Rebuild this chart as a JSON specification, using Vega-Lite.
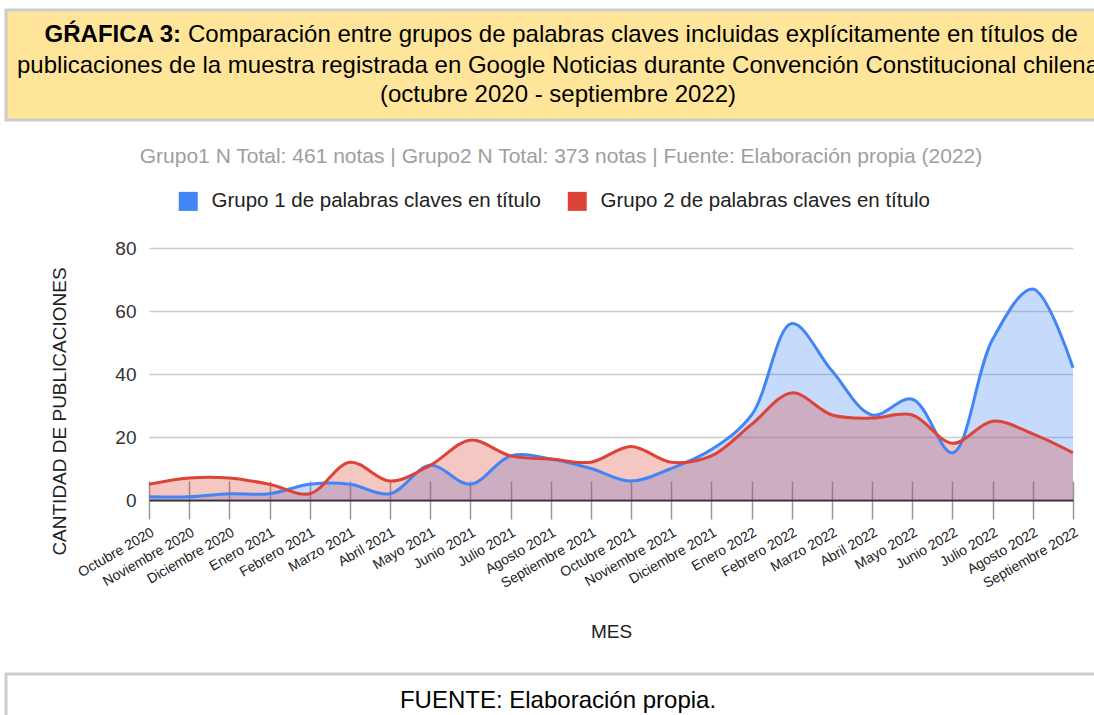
{
  "$schema": "https://vega.github.io/schema/vega-lite/v6.json",
  "background": "#ffffff",
  "padding": {"left": 4, "top": 8, "right": 0, "bottom": 0},
  "config": {
    "font": "Liberation Sans",
    "view": {"stroke": null},
    "concat": {"spacing": 24}
  },
  "datasets": {
    "serie": [
      {"mes": "Octubre 2020", "grupo": "Grupo 1 de palabras claves en título", "valor": 1},
      {"mes": "Noviembre 2020", "grupo": "Grupo 1 de palabras claves en título", "valor": 1},
      {"mes": "Diciembre 2020", "grupo": "Grupo 1 de palabras claves en título", "valor": 2},
      {"mes": "Enero 2021", "grupo": "Grupo 1 de palabras claves en título", "valor": 2},
      {"mes": "Febrero 2021", "grupo": "Grupo 1 de palabras claves en título", "valor": 5},
      {"mes": "Marzo 2021", "grupo": "Grupo 1 de palabras claves en título", "valor": 5},
      {"mes": "Abril 2021", "grupo": "Grupo 1 de palabras claves en título", "valor": 2},
      {"mes": "Mayo 2021", "grupo": "Grupo 1 de palabras claves en título", "valor": 11},
      {"mes": "Junio 2021", "grupo": "Grupo 1 de palabras claves en título", "valor": 5},
      {"mes": "Julio 2021", "grupo": "Grupo 1 de palabras claves en título", "valor": 14},
      {"mes": "Agosto 2021", "grupo": "Grupo 1 de palabras claves en título", "valor": 13},
      {"mes": "Septiembre 2021", "grupo": "Grupo 1 de palabras claves en título", "valor": 10},
      {"mes": "Octubre 2021", "grupo": "Grupo 1 de palabras claves en título", "valor": 6},
      {"mes": "Noviembre 2021", "grupo": "Grupo 1 de palabras claves en título", "valor": 10},
      {"mes": "Diciembre 2021", "grupo": "Grupo 1 de palabras claves en título", "valor": 16},
      {"mes": "Enero 2022", "grupo": "Grupo 1 de palabras claves en título", "valor": 27},
      {"mes": "Febrero 2022", "grupo": "Grupo 1 de palabras claves en título", "valor": 56},
      {"mes": "Marzo 2022", "grupo": "Grupo 1 de palabras claves en título", "valor": 41},
      {"mes": "Abril 2022", "grupo": "Grupo 1 de palabras claves en título", "valor": 27},
      {"mes": "Mayo 2022", "grupo": "Grupo 1 de palabras claves en título", "valor": 32},
      {"mes": "Junio 2022", "grupo": "Grupo 1 de palabras claves en título", "valor": 15},
      {"mes": "Julio 2022", "grupo": "Grupo 1 de palabras claves en título", "valor": 51},
      {"mes": "Agosto 2022", "grupo": "Grupo 1 de palabras claves en título", "valor": 67},
      {"mes": "Septiembre 2022", "grupo": "Grupo 1 de palabras claves en título", "valor": 42},
      {"mes": "Octubre 2020", "grupo": "Grupo 2 de palabras claves en título", "valor": 5},
      {"mes": "Noviembre 2020", "grupo": "Grupo 2 de palabras claves en título", "valor": 7},
      {"mes": "Diciembre 2020", "grupo": "Grupo 2 de palabras claves en título", "valor": 7},
      {"mes": "Enero 2021", "grupo": "Grupo 2 de palabras claves en título", "valor": 5},
      {"mes": "Febrero 2021", "grupo": "Grupo 2 de palabras claves en título", "valor": 2},
      {"mes": "Marzo 2021", "grupo": "Grupo 2 de palabras claves en título", "valor": 12},
      {"mes": "Abril 2021", "grupo": "Grupo 2 de palabras claves en título", "valor": 6},
      {"mes": "Mayo 2021", "grupo": "Grupo 2 de palabras claves en título", "valor": 11},
      {"mes": "Junio 2021", "grupo": "Grupo 2 de palabras claves en título", "valor": 19},
      {"mes": "Julio 2021", "grupo": "Grupo 2 de palabras claves en título", "valor": 14},
      {"mes": "Agosto 2021", "grupo": "Grupo 2 de palabras claves en título", "valor": 13},
      {"mes": "Septiembre 2021", "grupo": "Grupo 2 de palabras claves en título", "valor": 12},
      {"mes": "Octubre 2021", "grupo": "Grupo 2 de palabras claves en título", "valor": 17},
      {"mes": "Noviembre 2021", "grupo": "Grupo 2 de palabras claves en título", "valor": 12},
      {"mes": "Diciembre 2021", "grupo": "Grupo 2 de palabras claves en título", "valor": 14},
      {"mes": "Enero 2022", "grupo": "Grupo 2 de palabras claves en título", "valor": 24},
      {"mes": "Febrero 2022", "grupo": "Grupo 2 de palabras claves en título", "valor": 34},
      {"mes": "Marzo 2022", "grupo": "Grupo 2 de palabras claves en título", "valor": 27},
      {"mes": "Abril 2022", "grupo": "Grupo 2 de palabras claves en título", "valor": 26},
      {"mes": "Mayo 2022", "grupo": "Grupo 2 de palabras claves en título", "valor": 27},
      {"mes": "Junio 2022", "grupo": "Grupo 2 de palabras claves en título", "valor": 18},
      {"mes": "Julio 2022", "grupo": "Grupo 2 de palabras claves en título", "valor": 25},
      {"mes": "Agosto 2022", "grupo": "Grupo 2 de palabras claves en título", "valor": 21},
      {"mes": "Septiembre 2022", "grupo": "Grupo 2 de palabras claves en título", "valor": 15}
    ]
  },
  "resolve": {"legend": {"color": "independent"}},
  "vconcat": [
    {
      "width": 1090,
      "height": 110,
      "view": {"fill": "#ffe599", "stroke": "#cccccc", "strokeWidth": 3},
      "layer": [
        {
          "data": {"values": [{"texto": "GŔAFICA 3:"}]},
          "mark": {"type": "text", "fontSize": 24, "fontWeight": "bold", "align": "right", "baseline": "alphabetic", "dx": -370, "dy": -23, "color": "#000000"},
          "encoding": {"text": {"field": "texto"}}
        },
        {
          "data": {"values": [{"texto": "Comparación entre grupos de palabras claves incluidas explícitamente en títulos de"}]},
          "mark": {"type": "text", "fontSize": 24, "align": "left", "baseline": "alphabetic", "dx": -363, "dy": -23, "color": "#000000"},
          "encoding": {"text": {"field": "texto"}}
        },
        {
          "data": {"values": [{"texto": "publicaciones de la muestra registrada en Google Noticias durante Convención Constitucional chilena"}]},
          "mark": {"type": "text", "fontSize": 24, "align": "center", "baseline": "alphabetic", "dx": 7, "dy": 8, "color": "#000000"},
          "encoding": {"text": {"field": "texto"}}
        },
        {
          "data": {"values": [{"texto": "(octubre 2020 - septiembre 2022)"}]},
          "mark": {"type": "text", "fontSize": 24, "align": "center", "baseline": "alphabetic", "dx": 7, "dy": 37, "color": "#000000"},
          "encoding": {"text": {"field": "texto"}}
        }
      ]
    },
    {
      "spacing": 10,
      "resolve": {"legend": {"color": "independent"}},
      "hconcat": [
        {
          "width": 34,
          "height": 400,
          "data": {"values": [{"vacio": ""}]},
          "mark": {"type": "text", "opacity": 0},
          "encoding": {"text": {"field": "vacio"}}
        },
        {
          "width": 924,
          "height": 252,
          "data": {"name": "serie"},
          "title": {
            "text": "Grupo1 N Total: 461 notas | Grupo2 N Total: 373 notas | Fuente: Elaboración propia (2022)",
            "color": "#9e9e9e",
            "fontSize": 21,
            "fontWeight": "normal",
            "anchor": "middle",
            "dx": -50,
            "offset": 24
          },
          "encoding": {
            "x": {
              "field": "mes",
              "type": "nominal",
              "sort": null,
              "scale": {"type": "point", "padding": 0},
              "axis": {
                "title": "MES",
                "titleFontSize": 19,
                "titleFontWeight": "normal",
                "titleColor": "#222222",
                "titleY": 137,
                "titleBaseline": "alphabetic",
                "labelAngle": -30,
                "labelFontSize": 14,
                "labelColor": "#222222",
                "labelPadding": 6,
                "tickSize": 19,
                "tickColor": "#999999",
                "tickWidth": 1.5,
                "domainColor": "#333333",
                "domainWidth": 2,
                "grid": true,
                "gridColor": "#999999",
                "gridWidth": 1.5,
                "gridDash": [19, 233],
                "gridDashOffset": 19
              }
            },
            "y": {
              "field": "valor",
              "type": "quantitative",
              "stack": null,
              "scale": {"domain": [0, 80], "nice": false},
              "axis": {
                "title": "CANTIDAD DE PUBLICACIONES",
                "titleFontSize": 19,
                "titleFontWeight": "normal",
                "titleColor": "#222222",
                "titleX": -84,
                "titleY": 163,
                "titleAngle": -90,
                "titleAlign": "center",
                "titleBaseline": "alphabetic",
                "values": [0, 20, 40, 60, 80],
                "labelFontSize": 19,
                "labelColor": "#333333",
                "labelPadding": 13,
                "ticks": false,
                "domain": false,
                "grid": true,
                "gridColor": "#cccccc",
                "gridWidth": 1.5
              }
            },
            "color": {
              "field": "grupo",
              "type": "nominal",
              "scale": {
                "domain": ["Grupo 1 de palabras claves en título", "Grupo 2 de palabras claves en título"],
                "range": ["#4285f4", "#db4437"]
              },
              "legend": {
                "title": null,
                "orient": "none",
                "legendX": 29,
                "legendY": -57,
                "direction": "horizontal",
                "symbolType": "square",
                "symbolSize": 361,
                "symbolOpacity": 1,
                "symbolStrokeWidth": 0,
                "labelFontSize": 20.5,
                "labelLimit": 0,
                "labelColor": "#222222",
                "labelOffset": 13,
                "columnPadding": 26
              }
            }
          },
          "layer": [
            {
              "mark": {"type": "area", "interpolate": "catmull-rom", "opacity": 0.3}
            },
            {
              "mark": {"type": "line", "interpolate": "catmull-rom", "strokeWidth": 3}
            }
          ]
        }
      ]
    },
    {
      "width": 1090,
      "height": 43,
      "view": {"fill": "#ffffff", "stroke": "#cccccc", "strokeWidth": 3},
      "data": {"values": [{"texto": "FUENTE: Elaboración propia."}]},
      "mark": {"type": "text", "fontSize": 24, "align": "center", "baseline": "alphabetic", "dx": 7, "dy": 12, "color": "#000000"},
      "encoding": {"text": {"field": "texto"}}
    }
  ]
}
